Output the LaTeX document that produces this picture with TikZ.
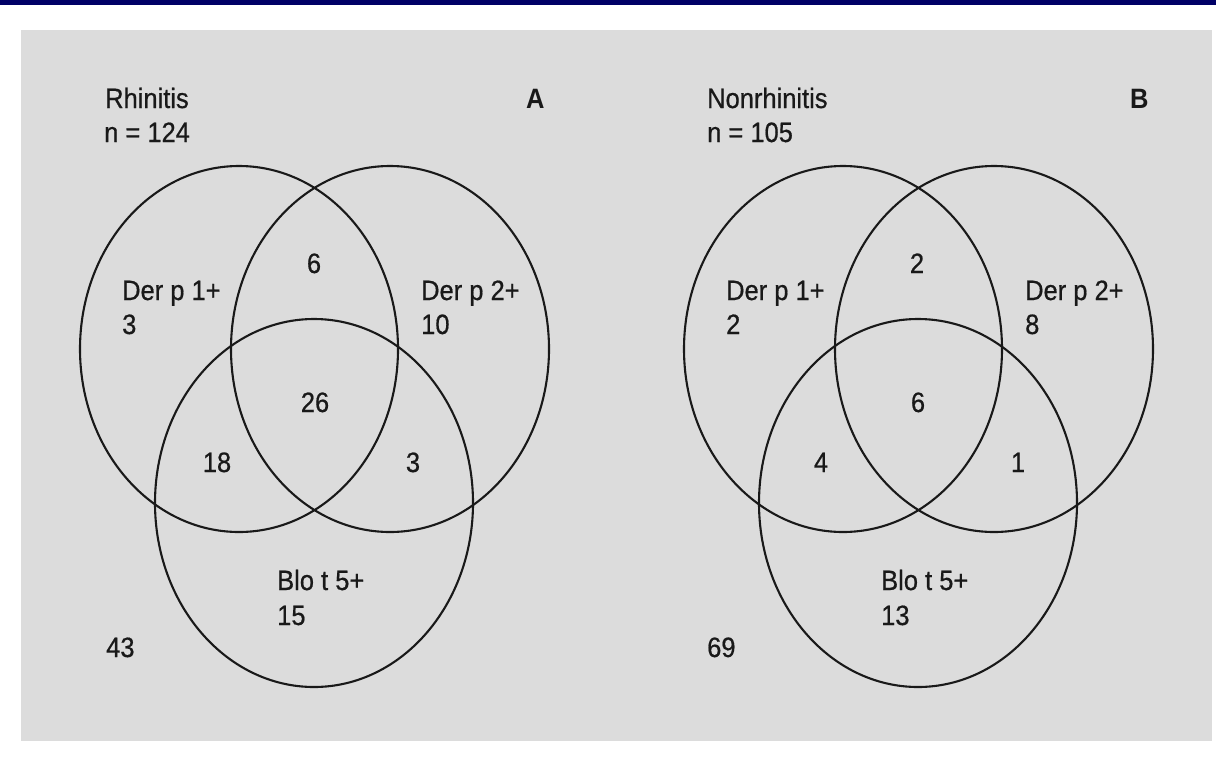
\documentclass[tikz,border=0pt]{standalone}
\usepackage{fontspec}
\newfontfamily\labfont[FakeStretch=0.91,FakeBold=0.6]{Liberation Sans}
\newfontfamily\tagfont[FakeStretch=0.91]{Liberation Sans Bold}
\definecolor{barblue}{RGB}{0,0,102}
\definecolor{panelgray}{RGB}{220,220,220}
\tikzset{
  lab/.style={font=\labfont\fontsize{28}{28}\selectfont, inner sep=0pt, anchor=base west, text=black!90},
  num/.style={lab, anchor=base},
  tag/.style={lab, font=\tagfont\fontsize{28}{28}\selectfont},
  ring/.style={line width=2.1pt, draw=black!90},
}
\begin{document}
\begin{tikzpicture}[x=1pt,y=-1pt]
\useasboundingbox (0,0) rectangle (1216,761);
\fill[white] (0,0) rectangle (1216,761);
\fill[barblue] (0,0) rectangle (1216,5);
\fill[panelgray] (21,30) rectangle (1212,741);

% Panel A
\draw[ring] (239,349) ellipse [x radius=159pt, y radius=183pt];
\draw[ring] (390,349) ellipse [x radius=159pt, y radius=183pt];
\draw[ring] (314,503) ellipse [x radius=159pt, y radius=184pt];
\node[lab] (aT1) at (105,108) {Rhinitis};
\node[lab] (aT2) at (104,142) {n = 124};
\node[tag] (aTag) at (526,108) {A};
\node[lab] (aD1) at (122,300) {Der p 1+};
\node[lab] (aD1n) at (122,334) {3};
\node[lab] (aD2) at (421,300) {Der p 2+};
\node[lab] (aD2n) at (421,334) {10};
\node[num] (a12) at (314,273) {6};
\node[num] (a123) at (315,412) {26};
\node[num] (a13) at (217,472) {18};
\node[num] (a23) at (413,472) {3};
\node[lab] (aB) at (277,590) {Blo t 5+};
\node[lab] (aBn) at (277,625) {15};
\node[lab] (aOut) at (106,657) {43};

% Panel B
\draw[ring] (843,349) ellipse [x radius=159pt, y radius=183pt];
\draw[ring] (994,349) ellipse [x radius=159pt, y radius=183pt];
\draw[ring] (918,503) ellipse [x radius=159pt, y radius=184pt];
\node[lab] (bT1) at (707,108) {Nonrhinitis};
\node[lab] (bT2) at (707,142) {n = 105};
\node[tag] (bTag) at (1130,108) {B};
\node[lab] (bD1) at (726,300) {Der p 1+};
\node[lab] (bD1n) at (726,334) {2};
\node[lab] (bD2) at (1025,300) {Der p 2+};
\node[lab] (bD2n) at (1025,334) {8};
\node[num] (b12) at (917,273) {2};
\node[num] (b123) at (918,412) {6};
\node[num] (b13) at (821,472) {4};
\node[num] (b23) at (1018,472) {1};
\node[lab] (bB) at (881,590) {Blo t 5+};
\node[lab] (bBn) at (881,625) {13};
\node[lab] (bOut) at (707,657) {69};
\end{tikzpicture}
\end{document}
